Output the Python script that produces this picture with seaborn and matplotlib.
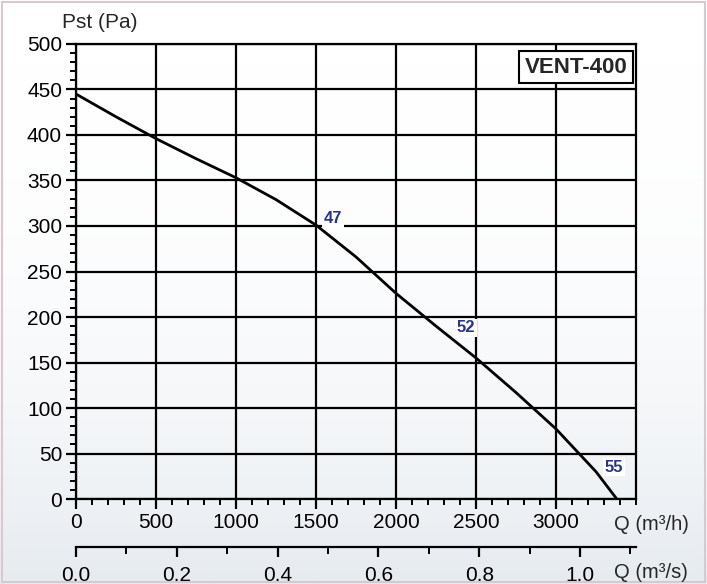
import numpy as np
import pandas as pd
import matplotlib
matplotlib.use("Agg")
import matplotlib.pyplot as plt
from matplotlib.ticker import MultipleLocator, FixedLocator
from matplotlib.patches import Rectangle
import seaborn as sns

# fan curve
flow_m3h = [0, 250, 500, 750, 1000, 1250, 1500, 1750, 2000, 2250, 2500, 2750, 3000, 3250, 3380]
pressure_pa = [445, 420, 396, 374, 353, 329, 301, 266, 226, 190, 155, 117, 77, 30, 0]

# noise labels on the curve
label_flow = [1606, 2437, 3362]
label_pa = [308, 188, 35]
label_text = ["47", "52", "55"]

x_ticks = [0, 500, 1000, 1500, 2000, 2500, 3000]
y_ticks = [0, 50, 100, 150, 200, 250, 300, 350, 400, 450, 500]
s_ticks = [0.0, 0.2, 0.4, 0.6, 0.8, 1.0]

df = pd.DataFrame({"Q": flow_m3h, "P": pressure_pa})

sns.set_theme(style="ticks")
plt.rcParams["font.family"] = ["Liberation Sans", "DejaVu Sans"]

fig = plt.figure(figsize=(7.07, 5.84), dpi=100)

# soft gradient background
bg = fig.add_axes([0, 0, 1, 1], zorder=-10)
grad = np.linspace(0, 1, 256).reshape(-1, 1) ** 2.5
bg.imshow(grad, aspect="auto", cmap=matplotlib.colors.LinearSegmentedColormap.from_list(
    "bg", ["#ffffff", "#e6ebf0"]), extent=[0, 1, 0, 1], origin="upper")
bg.set_axis_off()
fig.patches.append(Rectangle((0.003, 0.003), 0.994, 0.994, transform=fig.transFigure,
                             fill=False, edgecolor="#d9c9ce", lw=1.5))

ax = fig.add_axes([0.1075, 0.1455, 0.7921, 0.7792])
ax.set_facecolor("none")

sns.lineplot(data=df, x="Q", y="P", ax=ax, color="black", lw=2.0, zorder=3)

ax.set_xlim(0, 3500)
ax.set_ylim(0, 500)
ax.xaxis.set_major_locator(FixedLocator(x_ticks))
ax.xaxis.set_minor_locator(MultipleLocator(100))
ax.yaxis.set_major_locator(FixedLocator(y_ticks))
ax.yaxis.set_minor_locator(MultipleLocator(10))
ax.grid(True, which="major", color="black", lw=1.6)
for s in ax.spines.values():
    s.set_color("black")
    s.set_linewidth(1.6)
ax.tick_params(which="major", length=7, width=1.6, colors="black", labelsize=15, pad=3)
ax.tick_params(which="minor", length=4, width=1.4, colors="black")
ax.set_xlabel("")
ax.set_ylabel("")

for q, p, t in zip(label_flow, label_pa, label_text):
    ax.text(q, p, t, color="#27348b", fontsize=12, fontweight="bold", ha="center", va="center",
            bbox=dict(boxstyle="square,pad=0.1", fc="white", ec="none"), zorder=4)

ax.text(0.985, 0.972, "VENT-400", transform=ax.transAxes, ha="right", va="top",
        fontsize=16, fontweight="bold", zorder=5,
        bbox=dict(boxstyle="square,pad=0.25", fc="white", ec="black", lw=1.5))

fig.text(62 / 707, 1 - 22 / 584, "Pst (Pa)", fontsize=15, ha="left", va="center")
fig.text(614 / 707, 1 - 524 / 584, "Q (m³/h)", fontsize=14.5, ha="left", va="center")
fig.text(614 / 707, 1 - 572 / 584, "Q (m³/s)", fontsize=14.5, ha="left", va="center")

# second scale in m3/s
ax2 = fig.add_axes([0.1075, 0.0634, 0.7921, 0.001])
ax2.set_facecolor("none")
for k in ["top", "left", "right"]:
    ax2.spines[k].set_visible(False)
ax2.spines["bottom"].set_linewidth(1.6)
ax2.spines["bottom"].set_color("black")
ax2.set_xlim(0, 1.1111)
ax2.set_yticks([])
ax2.xaxis.set_major_locator(FixedLocator(s_ticks))
ax2.xaxis.set_minor_locator(MultipleLocator(0.1))
ax2.set_xticklabels([f"{v:.1f}" for v in s_ticks])
ax2.tick_params(which="major", length=7, width=1.6, colors="black", labelsize=15, pad=7)
ax2.tick_params(which="minor", length=5, width=1.4, colors="black")

fig.savefig("out.png", dpi=100)
